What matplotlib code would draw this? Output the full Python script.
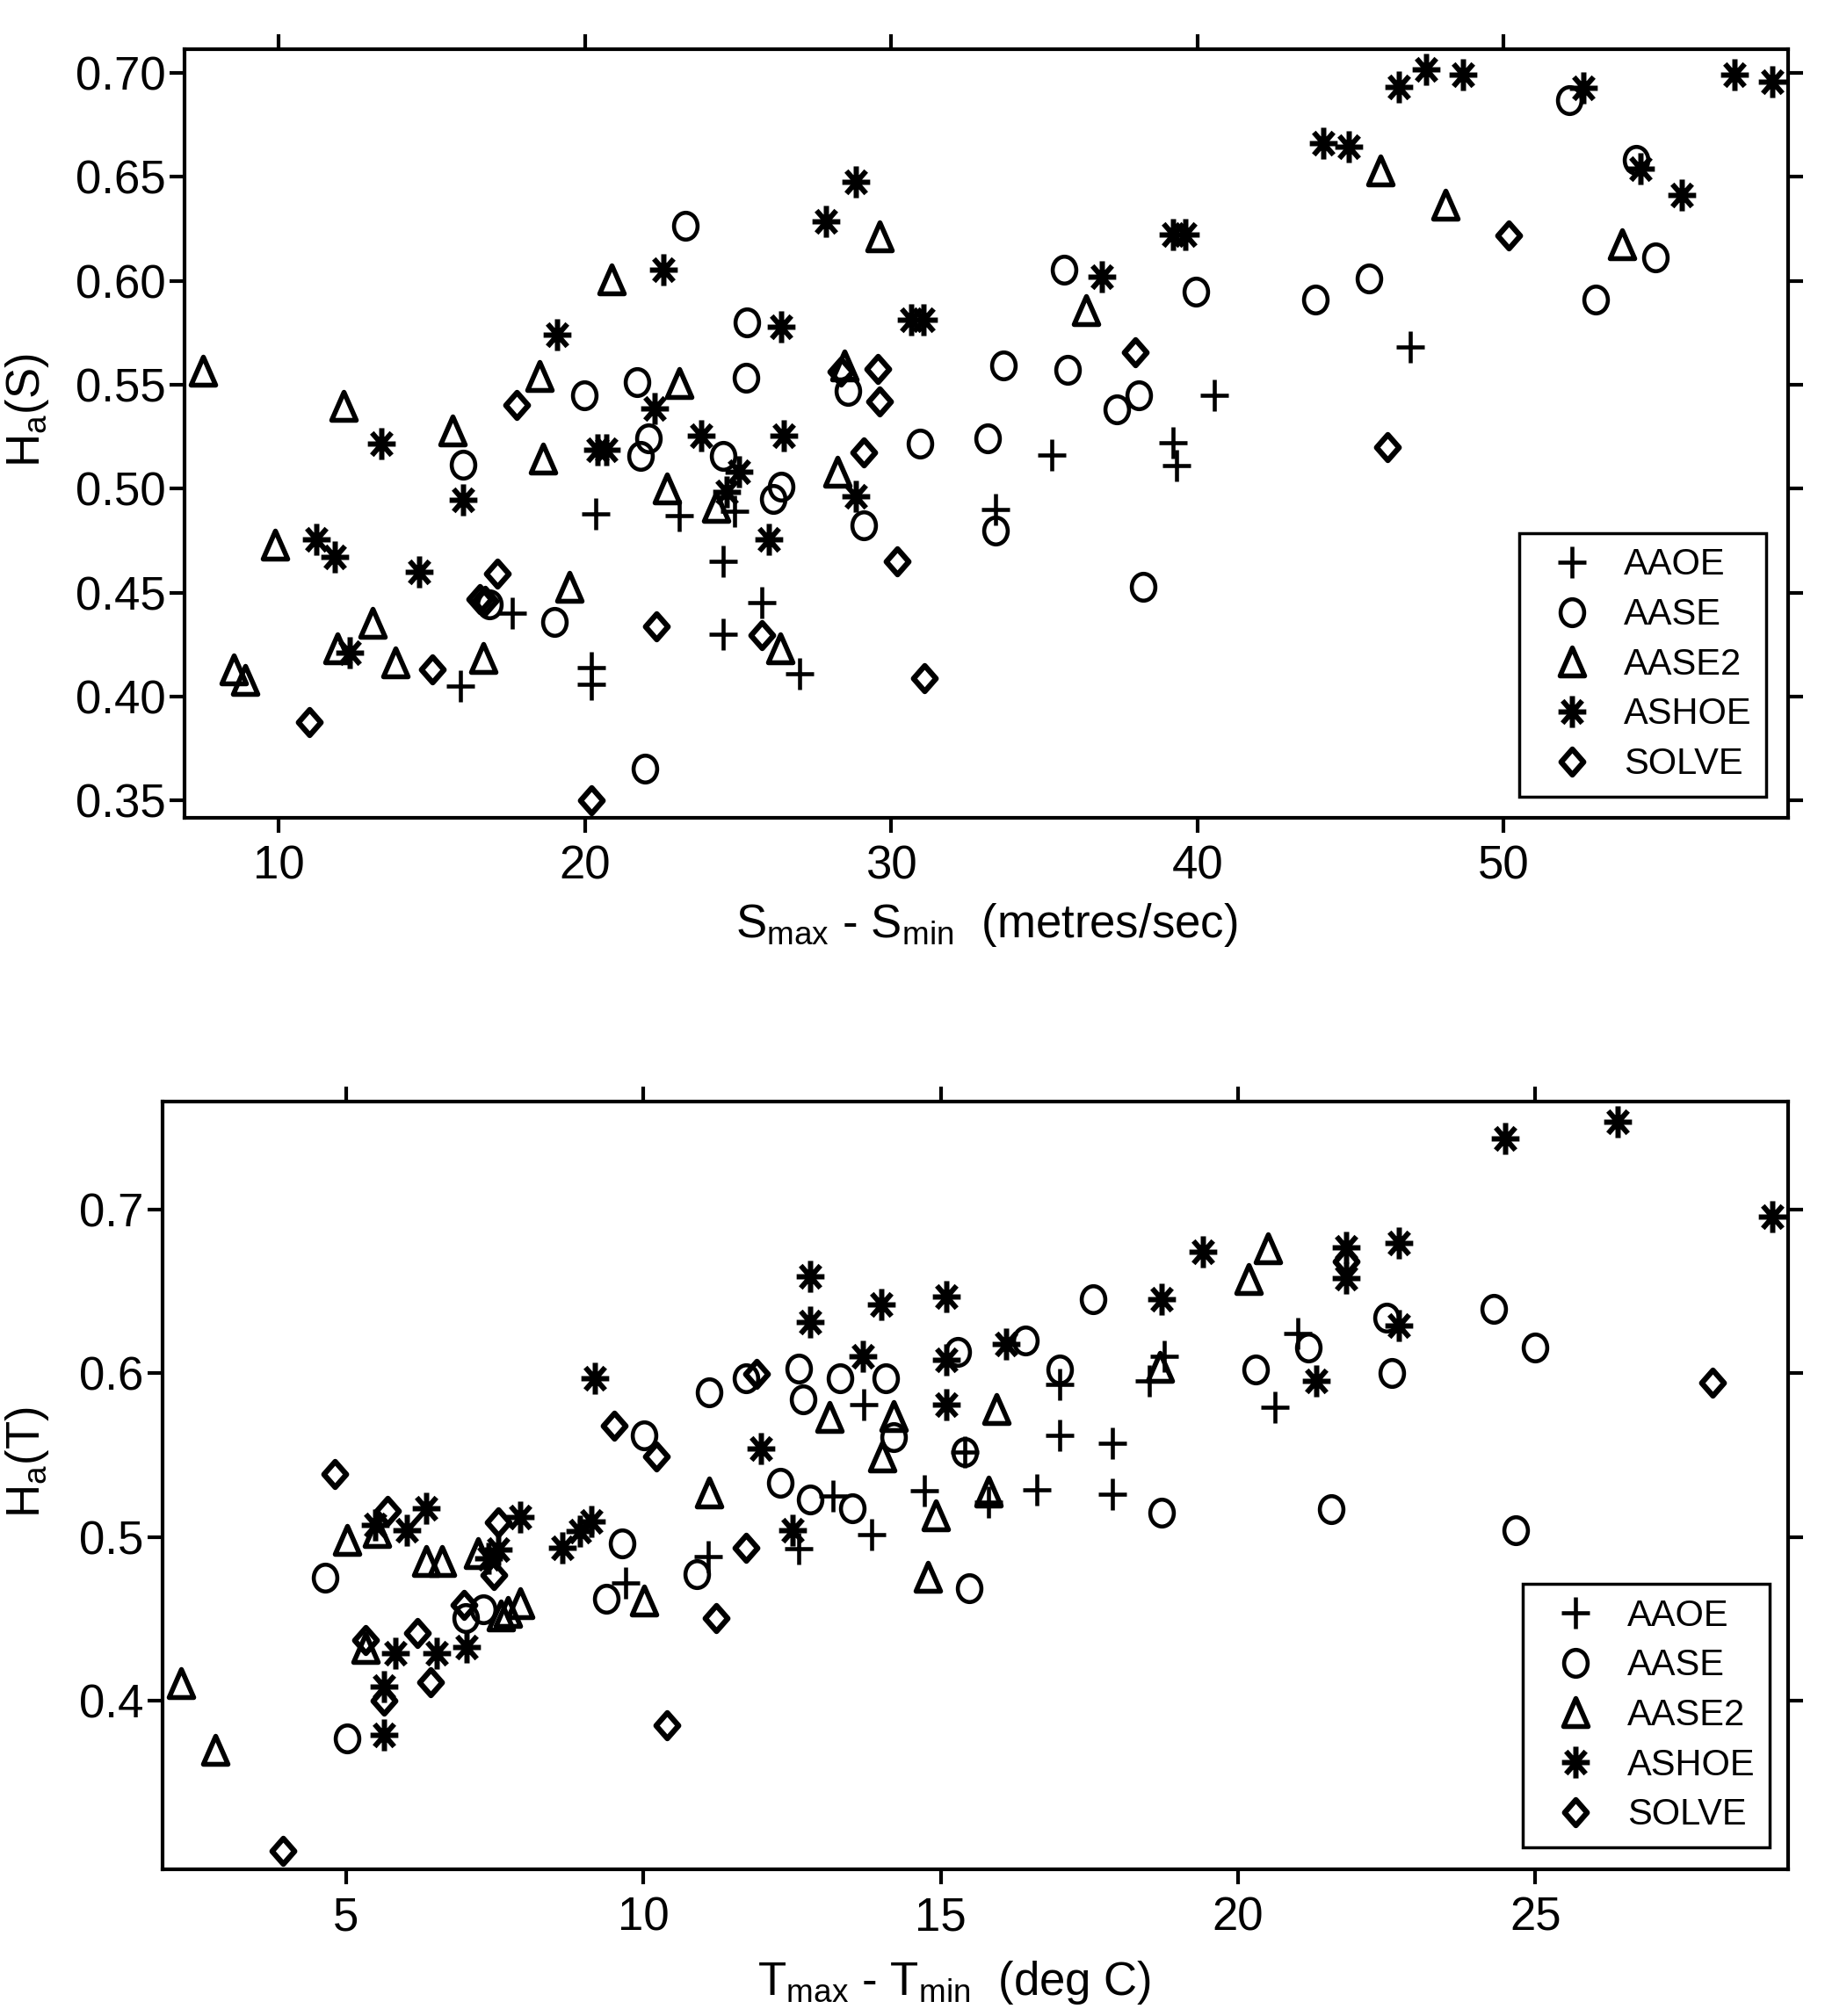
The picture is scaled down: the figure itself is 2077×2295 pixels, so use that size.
import numpy as np
import matplotlib
matplotlib.use("Agg")
import matplotlib.pyplot as plt
import matplotlib.path as mpath
from matplotlib import font_manager
from matplotlib.markers import MarkerStyle

# ---- top panel: H_a(S) against S_max - S_min ----
s_aaoe_x = [15.92, 17.62, 20.34, 20.21, 20.21, 23.06, 24.52, 24.52, 24.88, 25.77,
            26.99, 33.39, 35.25, 39.21, 39.31, 40.55, 46.95]
s_aaoe_y = [0.405, 0.440, 0.488, 0.414, 0.406, 0.487, 0.465, 0.430, 0.489, 0.445,
            0.411, 0.490, 0.516, 0.522, 0.511, 0.545, 0.568]

s_aase_x = [16.02, 19.97, 21.68, 22.07, 21.81, 23.28, 25.27, 25.24, 24.50, 26.41,
            26.15, 16.88, 18.99, 21.94, 28.59, 29.10, 30.94, 33.15, 33.40, 33.66,
            35.63, 35.75, 37.36, 38.09, 39.95, 38.22, 43.86, 45.60, 52.14, 54.32,
            54.95, 53.00]
s_aase_y = [0.5115, 0.5447, 0.5513, 0.5241, 0.5156, 0.6265, 0.5799, 0.5532, 0.5156, 0.5011,
            0.4950, 0.4445, 0.4360, 0.3652, 0.5471, 0.4824, 0.5217, 0.5241, 0.4799, 0.5593,
            0.6054, 0.5573, 0.5382, 0.5447, 0.5949, 0.4526, 0.5908, 0.6012, 0.6871, 0.6580,
            0.6114, 0.5908]

s_aase2_x = [7.53, 12.10, 15.68, 18.52, 18.61, 20.85, 23.06, 22.68, 24.28, 9.86,
             13.07, 11.91, 8.53, 8.91, 13.80, 16.66, 19.48, 26.37, 29.60, 28.46,
             28.23, 36.36, 45.98, 48.09, 53.86]
s_aase2_y = [0.5568, 0.5399, 0.5278, 0.5544, 0.5144, 0.6005, 0.5508, 0.4999, 0.4914, 0.4732,
             0.4356, 0.4234, 0.4130, 0.4081, 0.4166, 0.4186, 0.4526, 0.4234, 0.6212, 0.5593,
             0.5083, 0.5860, 0.6532, 0.6365, 0.6175]

s_ashoe_x = [19.09, 22.55, 26.40, 13.33, 16.02, 22.28, 20.40, 20.69, 23.80, 25.01,
             24.63, 26.50, 26.01, 11.22, 11.82, 14.57, 12.31, 28.84, 27.85, 30.66,
             31.04, 28.84, 36.87, 39.19, 39.60, 44.11, 44.94, 46.58, 47.46, 48.66,
             52.60, 54.47, 55.81, 57.54, 58.78]
s_ashoe_y = [0.5739, 0.6054, 0.5780, 0.5217, 0.4945, 0.5387, 0.5188, 0.5188, 0.5253, 0.5083,
             0.4986, 0.5253, 0.4756, 0.4756, 0.4671, 0.4598, 0.4210, 0.6474, 0.6284, 0.5811,
             0.5811, 0.4962, 0.6018, 0.6224, 0.6224, 0.6660, 0.6643, 0.6932, 0.7017, 0.6993,
             0.6927, 0.6539, 0.6411, 0.6993, 0.6959]

s_solve_x = [17.75, 17.13, 16.55, 16.72, 15.02, 10.99, 20.21, 22.32, 25.78, 28.36,
             29.57, 29.60, 29.09, 30.19, 31.07, 37.97, 50.17, 46.19]
s_solve_y = [0.5404, 0.4591, 0.4470, 0.4460, 0.4130, 0.3878, 0.3499, 0.4339, 0.4295, 0.5562,
             0.5576, 0.5418, 0.5173, 0.4652, 0.4089, 0.5654, 0.6219, 0.5198]

# ---- bottom panel: H_a(T) against T_max - T_min ----
t_aaoe_x = [9.70, 11.09, 12.61, 13.19, 13.70, 13.83, 14.72, 15.41, 15.80, 16.61,
            17.00, 17.00, 17.89, 17.89, 18.51, 18.76, 20.62, 21.01]
t_aaoe_y = [0.472, 0.488, 0.493, 0.525, 0.581, 0.5015, 0.528, 0.552, 0.521, 0.5285,
            0.562, 0.593, 0.557, 0.526, 0.595, 0.610, 0.579, 0.624]

t_aase_x = [4.64, 5.01, 7.01, 7.30, 9.64, 9.38, 10.01, 10.90, 11.10, 11.72,
            12.61, 12.69, 13.30, 14.08, 14.21, 12.30, 12.80, 13.51, 15.29, 16.42,
            17.00, 17.56, 15.41, 15.48, 18.71, 20.30, 21.19, 21.57, 22.50, 22.59,
            24.30, 24.99, 24.67]
t_aase_y = [0.475, 0.377, 0.4505, 0.456, 0.496, 0.462, 0.562, 0.477, 0.588, 0.597,
            0.603, 0.584, 0.597, 0.597, 0.561, 0.533, 0.523, 0.5176, 0.613, 0.620,
            0.602, 0.645, 0.5516, 0.4685, 0.515, 0.602, 0.6157, 0.517, 0.634, 0.600,
            0.639, 0.6157, 0.504]

t_aase2_x = [2.22, 2.79, 5.01, 5.33, 5.51, 6.34, 6.61, 7.21, 7.60, 7.72,
             7.93, 10.01, 11.10, 13.13, 14.21, 14.01, 15.93, 14.91, 15.80, 14.78,
             18.69, 20.18, 20.50]
t_aase2_y = [0.4105, 0.370, 0.498, 0.432, 0.503, 0.4854, 0.4854, 0.490, 0.452, 0.454,
             0.4595, 0.461, 0.527, 0.573, 0.574, 0.549, 0.578, 0.513, 0.5275, 0.4756,
             0.604, 0.6575, 0.6764]

t_ashoe_x = [5.48, 6.02, 6.34, 7.55, 7.40, 7.92, 8.63, 8.93, 9.13, 5.83,
             6.52, 7.03, 5.63, 5.63, 9.18, 11.98, 12.50, 12.80, 12.80, 14.00,
             13.69, 15.09, 15.09, 15.09, 16.10, 18.71, 19.41, 21.82, 21.82, 22.70,
             22.70, 21.32, 24.50, 26.39, 28.99]
t_ashoe_y = [0.507, 0.504, 0.5176, 0.492, 0.487, 0.512, 0.4934, 0.5033, 0.5096, 0.429,
             0.429, 0.4327, 0.4085, 0.379, 0.597, 0.554, 0.504, 0.659, 0.631, 0.642,
             0.610, 0.647, 0.608, 0.581, 0.618, 0.645, 0.674, 0.677, 0.658, 0.6796,
             0.629, 0.595, 0.7435, 0.7535, 0.6953]

t_solve_x = [3.93, 4.80, 5.70, 5.33, 6.20, 6.42, 5.63, 6.98, 7.48, 7.55,
             9.51, 10.21, 10.40, 11.22, 11.73, 11.90, 21.82, 27.98]
t_solve_y = [0.308, 0.5385, 0.516, 0.437, 0.441, 0.411, 0.400, 0.4586, 0.4765, 0.509,
             0.568, 0.549, 0.385, 0.4505, 0.4934, 0.5993, 0.668, 0.594]

campaigns = ["AAOE", "AASE", "AASE2", "ASHOE", "SOLVE"]

# markers in the original are a little taller than wide
STRETCH = 1.14
M, L, C = mpath.Path.MOVETO, mpath.Path.LINETO, mpath.Path.CLOSEPOLY


def tall(verts, codes):
    return mpath.Path(np.asarray(verts, float) * [1, STRETCH], codes)


circ = mpath.Path.unit_circle()
ast_verts, ast_codes = [], []
for a in np.radians([0, 45, 90, 135]):
    ast_verts += [(np.cos(a), np.sin(a)), (-np.cos(a), -np.sin(a))]
    ast_codes += [M, L]

marker_paths = {
    "AAOE": tall([(-1, 0), (1, 0), (0, -1), (0, 1)], [M, L, M, L]),
    "AASE": tall(circ.vertices, circ.codes),
    "AASE2": tall([(0, 1), (-1, -1), (1, -1), (0, 1)], [M, L, L, C]),
    "ASHOE": tall(ast_verts, ast_codes),
    "SOLVE": tall([(0, 1), (1, 0), (0, -1), (-1, 0), (0, 1)], [M, L, L, L, C]),
}
marker_size = {"AAOE": 26, "AASE": 22, "AASE2": 23, "ASHOE": 26, "SOLVE": 21}
marker_width = {"AAOE": 3.3, "AASE": 3.3, "AASE2": 4.0, "ASHOE": 4.3, "SOLVE": 4.5}
marker_join = {"AAOE": "miter", "AASE": "round", "AASE2": "miter", "ASHOE": "miter", "SOLVE": "miter"}

# tick and axis labels in the original are tall and condensed
installed = {f.name for f in font_manager.fontManager.ttflist}
if "Liberation Sans Narrow" in installed:
    narrow, tick_size = "Liberation Sans Narrow", 44
else:
    narrow, tick_size = "Liberation Sans", 38

plt.rcParams["font.family"] = [narrow, "DejaVu Sans"]
plt.rcParams["mathtext.fontset"] = "custom"
plt.rcParams["mathtext.rm"] = narrow
plt.rcParams["mathtext.it"] = narrow + ":italic"

fig = plt.figure(figsize=(20.77, 22.95), dpi=100)
ax1 = fig.add_axes([0.1010, 0.5944, 0.8787, 0.3812])
ax2 = fig.add_axes([0.0889, 0.0729, 0.8908, 0.3809])

top_data = {
    "AAOE": (s_aaoe_x, s_aaoe_y), "AASE": (s_aase_x, s_aase_y),
    "AASE2": (s_aase2_x, s_aase2_y), "ASHOE": (s_ashoe_x, s_ashoe_y),
    "SOLVE": (s_solve_x, s_solve_y),
}
bottom_data = {
    "AAOE": (t_aaoe_x, t_aaoe_y), "AASE": (t_aase_x, t_aase_y),
    "AASE2": (t_aase2_x, t_aase2_y), "ASHOE": (t_ashoe_x, t_ashoe_y),
    "SOLVE": (t_solve_x, t_solve_y),
}


def draw(ax, data):
    for name in campaigns:
        x, y = data[name]
        ms = MarkerStyle(marker_paths[name], joinstyle=marker_join[name], capstyle="butt")
        ax.plot(x, y, linestyle="none", marker=ms, markersize=marker_size[name],
                markerfacecolor="none", markeredgecolor="black",
                markeredgewidth=marker_width[name], label=name)


def style(ax):
    for sp in ax.spines.values():
        sp.set_linewidth(3)
    ax.tick_params(which="both", direction="out", length=12, width=3,
                   top=True, right=True, labelsize=tick_size)
    ax.tick_params(axis="x", pad=10)
    ax.tick_params(axis="y", pad=3)


def legend(ax, anchor):
    leg = ax.legend(loc="lower right", bbox_to_anchor=anchor, borderaxespad=0,
                    prop={"family": ["Liberation Sans", "DejaVu Sans"], "size": 30},
                    frameon=True, fancybox=False, framealpha=1,
                    edgecolor="black", handlelength=2.1, handletextpad=0.35,
                    labelspacing=0.4, borderpad=0.4, numpoints=1)
    leg.get_frame().set_linewidth(2.5)


draw(ax1, top_data)
style(ax1)
ax1.set_xlim(6.91, 59.28)
ax1.set_ylim(0.3417, 0.7114)
ax1.set_xticks([10, 20, 30, 40, 50])
ax1.set_yticks(np.arange(0.35, 0.701, 0.05))
ax1.yaxis.set_major_formatter(matplotlib.ticker.FormatStrFormatter("%.2f"))
ax1.set_xlabel(r"$\mathregular{S_{max}}$ - $\mathregular{S_{min}}$  (metres/sec)", fontsize=tick_size)
ax1.set_ylabel(r"$\mathregular{H_a}$(S)", fontsize=tick_size)
ax1.xaxis.set_label_coords(0.5, -0.109)
ax1.yaxis.set_label_coords(-0.083, 0.53)
legend(ax1, (0.9864, 0.0275))

draw(ax2, bottom_data)
style(ax2)
ax2.set_xlim(1.905, 29.25)
ax2.set_ylim(0.2971, 0.7661)
ax2.set_xticks([5, 10, 15, 20, 25])
ax2.set_yticks([0.4, 0.5, 0.6, 0.7])
ax2.yaxis.set_major_formatter(matplotlib.ticker.FormatStrFormatter("%.1f"))
ax2.set_xlabel(r"$\mathregular{T_{max}}$ - $\mathregular{T_{min}}$  (deg C)", fontsize=tick_size)
ax2.set_ylabel(r"$\mathregular{H_a}$(T)", fontsize=tick_size)
ax2.xaxis.set_label_coords(0.487, -0.117)
ax2.yaxis.set_label_coords(-0.0685, 0.53)
legend(ax2, (0.9888, 0.0283))

fig.savefig("out.png", dpi=100)
